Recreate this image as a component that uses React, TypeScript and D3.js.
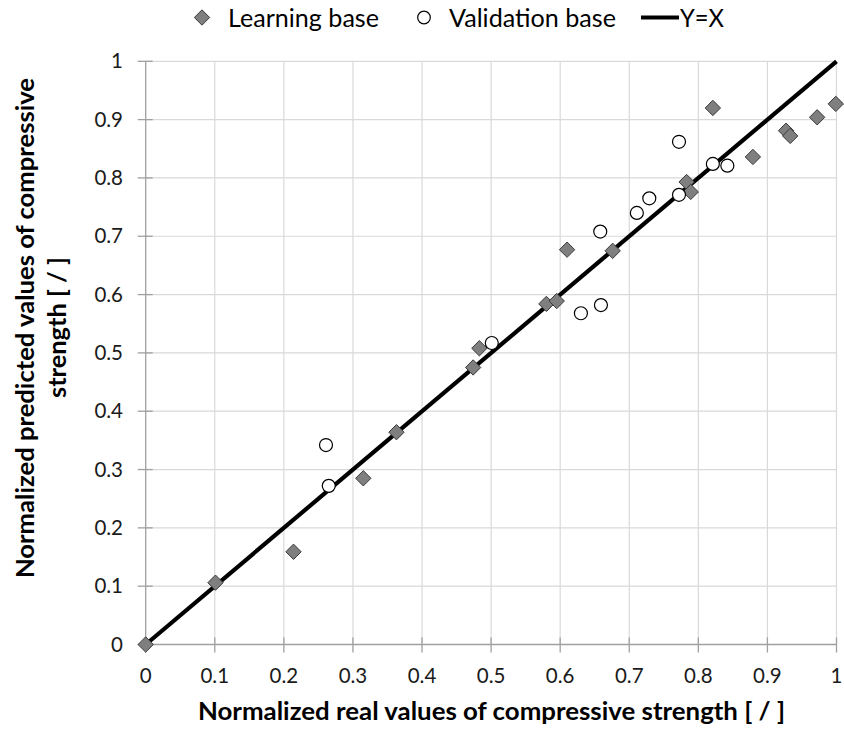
import React from "react";
import * as d3 from "d3";

const learningX = [0, 0.101, 0.214, 0.315, 0.363, 0.474, 0.483, 0.58, 0.595, 0.61, 0.676, 0.783, 0.789, 0.821, 0.879, 0.927, 0.933, 0.972, 0.999];
const learningY = [0, 0.106, 0.159, 0.285, 0.364, 0.475, 0.508, 0.584, 0.589, 0.677, 0.675, 0.793, 0.776, 0.92, 0.836, 0.881, 0.872, 0.904, 0.927];

const validationX = [0.261, 0.265, 0.501, 0.63, 0.658, 0.659, 0.711, 0.729, 0.772, 0.772, 0.821, 0.842];
const validationY = [0.342, 0.272, 0.517, 0.568, 0.708, 0.582, 0.74, 0.765, 0.862, 0.771, 0.824, 0.821];

const lineX = [0, 1];
const lineY = [0, 1];

const xTicks = [0, 0.1, 0.2, 0.3, 0.4, 0.5, 0.6, 0.7, 0.8, 0.9, 1];
const yTicks = [0, 0.1, 0.2, 0.3, 0.4, 0.5, 0.6, 0.7, 0.8, 0.9, 1];

const legendLabels = ["Learning base", "Validation base", "Y=X"];
const xTitle = "Normalized real values of compressive strength [ / ]";
const yTitleLines = ["Normalized predicted values of compressive", "strength [ / ]"];

const W = 844;
const H = 731;
const FONT = "Lato, 'Open Sans', 'DejaVu Sans', sans-serif";

export default function App() {
  const x = d3.scaleLinear().domain([0, 1]).range([145.7, 836.5]);
  const y = d3.scaleLinear().domain([0, 1]).range([644.5, 61.3]);
  const fmt = (v: number) => (v === 0 ? "0" : v === 1 ? "1" : d3.format(".1f")(v));
  const diamond = d3.symbol().type(d3.symbolDiamond2).size(150)();
  const line = d3
    .line<number>()
    .x((_, i) => x(lineX[i]))
    .y((_, i) => y(lineY[i]));

  return (
    <svg width={W} height={H} style={{ position: "absolute", left: 0, top: 0, background: "#fff" }}>
      {/* gridlines */}
      {xTicks.slice(1).map((t) => (
        <line key={"gx" + t} x1={x(t)} x2={x(t)} y1={y(0)} y2={y(1)} stroke="#d9d9d9" strokeWidth={1.2} />
      ))}
      {yTicks.slice(1).map((t) => (
        <line key={"gy" + t} x1={x(0)} x2={x(1)} y1={y(t)} y2={y(t)} stroke="#d9d9d9" strokeWidth={1.2} />
      ))}
      {/* axes */}
      <line x1={x(0)} x2={x(0)} y1={y(0)} y2={y(1)} stroke="#a0a0a0" strokeWidth={1.3} />
      <line x1={x(0)} x2={x(1)} y1={y(0)} y2={y(0)} stroke="#a0a0a0" strokeWidth={1.3} />
      {yTicks.map((t) => (
        <line key={"ty" + t} x1={x(0) - 8} x2={x(0) + 7} y1={y(t)} y2={y(t)} stroke="#a0a0a0" strokeWidth={1.3} />
      ))}
      {xTicks.map((t) => (
        <line key={"tx" + t} x1={x(t)} x2={x(t)} y1={y(0) - 7} y2={y(0) + 8} stroke="#a0a0a0" strokeWidth={1.3} />
      ))}
      {/* tick labels */}
      {yTicks.map((t) => (
        <text key={"ly" + t} x={123} y={y(t)} dy="0.35em" textAnchor="end" fontFamily={FONT} fontSize={20.5} fill="#1a1a1a">
          {fmt(t)}
        </text>
      ))}
      {xTicks.map((t) => (
        <text key={"lx" + t} x={x(t)} y={683} textAnchor="middle" fontFamily={FONT} fontSize={20.5} fill="#1a1a1a">
          {fmt(t)}
        </text>
      ))}
      {/* Y=X line */}
      <path d={line(lineX) || ""} fill="none" stroke="#000" strokeWidth={4.2} />
      {/* learning base */}
      {learningX.map((v, i) => (
        <path
          key={"l" + i}
          d={diamond || ""}
          transform={`translate(${x(v)},${y(learningY[i])})`}
          fill="#7f7f7f"
          stroke="#3a3a3a"
          strokeWidth={1}
        />
      ))}
      {/* validation base */}
      {validationX.map((v, i) => (
        <circle key={"v" + i} cx={x(v)} cy={y(validationY[i])} r={6.5} fill="#fff" stroke="#000" strokeWidth={1.2} />
      ))}
      {/* legend */}
      <path d={diamond || ""} transform="translate(202,17.5)" fill="#7f7f7f" stroke="#3a3a3a" strokeWidth={1} />
      <text x={228} y={27} fontFamily={FONT} fontSize={25} fill="#000" textLength={151} lengthAdjust="spacingAndGlyphs">
        {legendLabels[0]}
      </text>
      <circle cx={424} cy={17.5} r={6.3} fill="#fff" stroke="#000" strokeWidth={1.2} />
      <text x={449} y={27} fontFamily={FONT} fontSize={25} fill="#000" textLength={167} lengthAdjust="spacingAndGlyphs">
        {legendLabels[1]}
      </text>
      <line x1={641} x2={679} y1={17.5} y2={17.5} stroke="#000" strokeWidth={4.2} />
      <text x={680} y={27} fontFamily={FONT} fontSize={25} fill="#000" textLength={44} lengthAdjust="spacingAndGlyphs">
        {legendLabels[2]}
      </text>
      {/* x title */}
      <text
        x={198}
        y={720}
        fontFamily={FONT}
        fontSize={24}
        fontWeight="bold"
        fill="#000"
        textLength={587}
        lengthAdjust="spacingAndGlyphs"
      >
        {xTitle}
      </text>
      {/* y title */}
      <text
        transform="translate(34,578) rotate(-90)"
        fontFamily={FONT}
        fontSize={24}
        fontWeight="bold"
        fill="#000"
        textLength={500}
        lengthAdjust="spacingAndGlyphs"
      >
        {yTitleLines[0]}
      </text>
      <text
        transform="translate(66,398) rotate(-90)"
        fontFamily={FONT}
        fontSize={24}
        fontWeight="bold"
        fill="#000"
        textLength={141}
        lengthAdjust="spacingAndGlyphs"
      >
        {yTitleLines[1]}
      </text>
    </svg>
  );
}
